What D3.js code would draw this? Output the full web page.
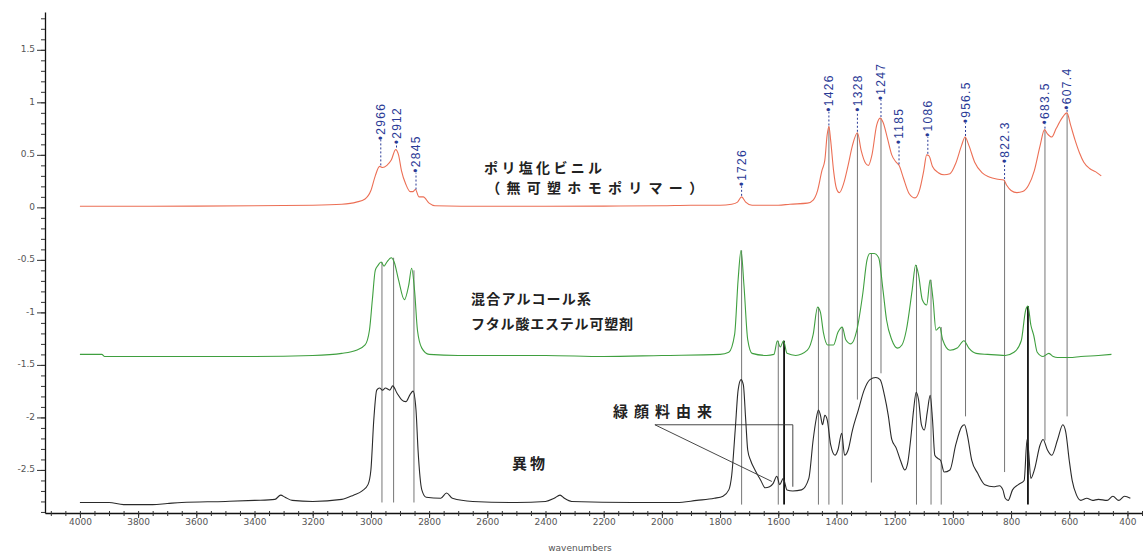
<!DOCTYPE html>
<html>
<head>
<meta charset="utf-8">
<script src="https://cdn.jsdelivr.net/npm/d3@7"></script>
<style>
  body { margin: 0; background: #fff; }
  .tick text { font-family: "DejaVu Sans", sans-serif; font-size: 9px; fill: #555; }
  .jp { font-family: "Noto Sans CJK JP", sans-serif; font-weight: bold; fill: #222; }
</style>
</head>
<body>
<div id="chart"></div>
<script>
// spectra: [wavenumber, absorbance]
const pvcSpectrum = [
  [4000,0.01],[3800,0.01],[3600,0.012],[3400,0.015],[3200,0.02],[3100,0.03],[3050,0.05],[3020,0.08],
  [3000,0.16],[2985,0.30],[2970,0.39],[2960,0.38],[2945,0.40],[2930,0.45],[2915,0.55],[2905,0.50],
  [2895,0.35],[2880,0.22],[2865,0.15],[2856,0.15],[2847,0.17],[2835,0.10],[2820,0.10],[2800,0.04],
  [2780,0.015],[2600,0.01],[2400,0.01],[2200,0.012],[2000,0.015],[1900,0.02],[1800,0.02],[1760,0.03],
  [1740,0.05],[1726,0.10],[1712,0.05],[1690,0.02],[1600,0.02],[1560,0.03],[1500,0.04],[1480,0.07],
  [1465,0.16],[1450,0.35],[1440,0.45],[1432,0.69],[1426,0.77],[1420,0.64],[1410,0.35],[1400,0.18],
  [1390,0.14],[1375,0.23],[1360,0.40],[1345,0.59],[1328,0.71],[1315,0.54],[1300,0.42],[1290,0.40],
  [1278,0.50],[1262,0.78],[1250,0.85],[1240,0.81],[1225,0.66],[1210,0.50],[1195,0.43],[1185,0.40],
  [1170,0.28],[1150,0.13],[1130,0.09],[1115,0.16],[1100,0.35],[1090,0.50],[1082,0.49],[1070,0.39],
  [1050,0.33],[1030,0.31],[1010,0.32],[990,0.42],[970,0.59],[958,0.67],[945,0.59],[925,0.43],
  [900,0.33],[875,0.29],[850,0.27],[825,0.26],[815,0.21],[800,0.16],[780,0.14],[760,0.15],
  [740,0.21],[720,0.35],[700,0.59],[685,0.74],[675,0.70],[660,0.67],[645,0.75],[625,0.85],
  [608,0.90],[595,0.78],[580,0.64],[565,0.52],[550,0.43],[530,0.37],[510,0.34],[490,0.30]
];

const plasticizerSpectrum = [
  [4000,-1.40],[3925,-1.40],[3915,-1.42],[3600,-1.42],[3400,-1.42],[3200,-1.41],[3100,-1.39],[3050,-1.36],
  [3020,-1.31],[3005,-1.17],[2995,-0.88],[2985,-0.60],[2975,-0.55],[2965,-0.52],[2955,-0.56],[2945,-0.52],
  [2930,-0.48],[2920,-0.52],[2905,-0.69],[2885,-0.88],[2870,-0.74],[2860,-0.58],[2850,-0.79],[2840,-1.17],
  [2825,-1.34],[2800,-1.40],[2700,-1.41],[2400,-1.41],[2200,-1.42],[2000,-1.41],[1800,-1.40],[1770,-1.38],
  [1750,-1.21],[1738,-0.69],[1728,-0.41],[1718,-0.74],[1705,-1.26],[1690,-1.39],[1640,-1.41],[1615,-1.40],
  [1603,-1.27],[1593,-1.33],[1582,-1.27],[1570,-1.39],[1540,-1.41],[1500,-1.36],[1480,-1.21],[1465,-0.95],
  [1455,-1.00],[1445,-1.19],[1430,-1.31],[1410,-1.31],[1395,-1.19],[1380,-1.14],[1368,-1.26],[1350,-1.30],
  [1330,-1.17],[1310,-0.83],[1295,-0.50],[1285,-0.44],[1270,-0.44],[1255,-0.48],[1240,-0.79],[1228,-1.07],
  [1210,-1.26],[1190,-1.34],[1175,-1.31],[1160,-1.17],[1140,-0.79],[1128,-0.55],[1118,-0.64],[1105,-0.88],
  [1090,-0.93],[1078,-0.69],[1068,-0.88],[1058,-1.17],[1045,-1.14],[1035,-1.26],[1010,-1.36],[985,-1.34],
  [962,-1.27],[945,-1.34],[920,-1.39],[880,-1.40],[820,-1.41],[790,-1.38],[765,-1.27],[750,-0.98],
  [742,-0.94],[732,-1.12],[722,-1.22],[710,-1.38],[690,-1.42],[670,-1.39],[655,-1.42],[640,-1.43],
  [600,-1.43],[560,-1.42],[500,-1.41],[455,-1.40]
];

const sampleSpectrum = [
  [4000,-2.81],[3900,-2.81],[3850,-2.83],[3750,-2.83],[3700,-2.82],[3650,-2.81],[3500,-2.80],[3400,-2.79],
  [3330,-2.78],[3310,-2.74],[3295,-2.76],[3270,-2.79],[3200,-2.80],[3100,-2.78],[3060,-2.74],[3030,-2.70],
  [3010,-2.64],[3000,-2.50],[2990,-2.02],[2980,-1.74],[2970,-1.72],[2960,-1.74],[2950,-1.72],[2935,-1.74],
  [2925,-1.70],[2910,-1.77],[2895,-1.83],[2880,-1.85],[2865,-1.78],[2855,-1.75],[2845,-1.93],[2838,-2.31],
  [2825,-2.69],[2810,-2.76],[2760,-2.77],[2740,-2.72],[2720,-2.77],[2650,-2.80],[2500,-2.81],[2400,-2.80],
  [2370,-2.77],[2350,-2.74],[2335,-2.77],[2310,-2.80],[2100,-2.81],[1950,-2.81],[1880,-2.79],[1820,-2.77],
  [1790,-2.75],[1770,-2.69],[1760,-2.55],[1748,-2.12],[1738,-1.74],[1728,-1.64],[1720,-1.69],[1712,-2.02],
  [1705,-2.31],[1695,-2.41],[1680,-2.50],[1660,-2.60],[1645,-2.67],[1630,-2.66],[1618,-2.63],[1605,-2.56],
  [1595,-2.64],[1583,-2.58],[1570,-2.69],[1550,-2.70],[1520,-2.69],[1495,-2.58],[1480,-2.21],[1470,-2.02],
  [1462,-1.93],[1455,-1.98],[1448,-2.07],[1440,-1.98],[1432,-2.02],[1420,-2.26],[1405,-2.36],[1395,-2.31],
  [1382,-2.15],[1372,-2.36],[1360,-2.31],[1345,-2.12],[1325,-1.93],[1305,-1.74],[1285,-1.64],[1265,-1.62],
  [1250,-1.64],[1235,-1.79],[1222,-1.98],[1210,-2.21],[1195,-2.29],[1180,-2.41],[1165,-2.50],[1155,-2.43],
  [1145,-2.21],[1135,-1.93],[1126,-1.76],[1118,-1.83],[1108,-2.07],[1098,-2.12],[1088,-1.95],[1078,-1.79],
  [1070,-2.02],[1062,-2.36],[1052,-2.39],[1042,-2.41],[1030,-2.52],[1010,-2.50],[990,-2.26],[970,-2.09],
  [960,-2.07],[950,-2.17],[935,-2.41],[915,-2.53],[890,-2.64],[860,-2.66],[840,-2.65],[828,-2.69],
  [820,-2.77],[810,-2.79],[795,-2.69],[775,-2.64],[755,-2.60],[745,-2.21],[740,-2.31],[732,-2.58],
  [720,-2.50],[700,-2.26],[690,-2.21],[675,-2.31],[660,-2.36],[640,-2.21],[622,-2.07],[612,-2.14],
  [600,-2.41],[590,-2.60],[575,-2.74],[560,-2.79],[540,-2.77],[520,-2.79],[500,-2.78],[470,-2.79],
  [450,-2.75],[430,-2.79],[410,-2.75],[390,-2.77]
];

// peak labels on the PVC trace
const peakWavenumbers = [2966, 2912, 2845, 1726, 1426, 1328, 1247, 1185, 1086, 956.5, 822.3, 683.5, 607.4];
const peakLabels = ["2966", "2912", "2845", "1726", "1426", "1328", "1247", "1185", "1086", "956.5", "822.3", "683.5", "607.4"];
const peakValues = [0.39, 0.56, 0.16, 0.10, 0.77, 0.71, 0.85, 0.40, 0.50, 0.67, 0.26, 0.74, 0.90];
const peakLabelLevels = [0.64, 0.60, 0.33, 0.20, 0.91, 0.91, 1.02, 0.60, 0.67, 0.80, 0.42, 0.79, 0.93];

// vertical guide lines: [wavenumber, top, bottom]
const guideLines = [
  [2962, -0.52, -2.81], [2922, -0.48, -2.81], [2852, -0.60, -2.81],
  [1726, -0.41, -2.83], [1600, -1.27, -2.83], [1580, -1.27, -2.83],
  [1462, -0.95, -2.83], [1426, 0.77, -2.83], [1380, -1.14, -2.83],
  [1328, 0.71, -1.83], [1280, -0.44, -2.62], [1247, 0.85, -1.58],
  [1125, -0.55, -2.83], [1075, -0.69, -2.83], [1040, -1.14, -2.83],
  [956.5, 0.67, -1.99], [822.3, 0.26, -2.52], [742, -0.94, -2.83],
  [683.5, 0.74, -2.22], [607.4, 0.90, -1.99]
];
const boldGuides = [1580, 742];

// 緑顔料由来 pointer lines
const pigmentBracket = [[2024, -2.07], [1550, -2.07], [1550, -2.66]];
const pigmentPointer = [[2024, -2.07], [1622, -2.61]];

const xTicks = d3.range(4000, 399, -200);
const xMinorTicks = d3.range(4100, 349, -50);
const yTicks = [-2.5, -2, -1.5, -1, -0.5, 0, 0.5, 1, 1.5];
const yMinorTicks = d3.range(-29, 19).map(d => d / 10);

const annotations = [
  {text: "ポリ塩化ビニル", w: 2611, v: 0.386, size: 14, len: 118},
  {text: "（無可塑ホモポリマー）", w: 2604, v: 0.195, size: 14, len: 217},
  {text: "混合アルコール系", w: 2656, v: -0.862, size: 14, len: 120},
  {text: "フタル酸エステル可塑剤", w: 2656, v: -1.10, size: 14, len: 162},
  {text: "緑顔料由来", w: 2168, v: -1.938, size: 15, len: 99},
  {text: "異物", w: 2515, v: -2.433, size: 15, len: 33}
];

const W = 1146, H = 555;
const x = d3.scaleLinear().domain([4120, 350]).range([45, 1142]);
const y = d3.scaleLinear().domain([-2.91, 1.86]).range([513, 12]);

const svg = d3.select("#chart").append("svg")
  .attr("width", W).attr("height", H);

// guide lines behind the traces
svg.append("g").selectAll("line")
  .data(guideLines)
  .enter().append("line")
  .attr("x1", d => x(d[0])).attr("x2", d => x(d[0]))
  .attr("y1", d => y(d[1])).attr("y2", d => y(d[2]))
  .attr("stroke", d => boldGuides.includes(d[0]) ? "#111" : "#666")
  .attr("stroke-width", d => boldGuides.includes(d[0]) ? 1.8 : 0.9);

const line = d3.line()
  .x(d => x(d[0]))
  .y(d => y(d[1]))
  .curve(d3.curveMonotoneX);

const traces = [
  {data: pvcSpectrum, color: "#ec6f55"},
  {data: plasticizerSpectrum, color: "#3f9f3f"},
  {data: sampleSpectrum, color: "#2a2a2a"}
];
svg.append("g").selectAll("path")
  .data(traces)
  .enter().append("path")
  .attr("d", d => line(d.data))
  .attr("fill", "none")
  .attr("stroke", d => d.color)
  .attr("stroke-width", 1.1);

// pointer lines
const pointer = d3.line().x(d => x(d[0])).y(d => y(d[1]));
[pigmentBracket, pigmentPointer].forEach(p => {
  svg.append("path").attr("d", pointer(p))
    .attr("fill", "none").attr("stroke", "#333").attr("stroke-width", 0.9);
});

// peak labels
const labels = svg.append("g");
peakWavenumbers.forEach((w, i) => {
  labels.append("line")
    .attr("x1", x(w)).attr("x2", x(w))
    .attr("y1", y(peakValues[i]) - 1).attr("y2", y(peakLabelLevels[i]))
    .attr("stroke", "#2a3a96").attr("stroke-width", 1)
    .attr("stroke-dasharray", "2,2");
  labels.append("text")
    .attr("transform", `translate(${x(w)},${y(peakLabelLevels[i])}) rotate(-90)`)
    .attr("dy", "0.35em")
    .attr("font-family", "Liberation Sans, Arial, sans-serif")
    .attr("font-size", 12)
    .attr("letter-spacing", 1.3)
    .attr("fill", "#2a3a96")
    .text("•" + peakLabels[i]);
});

// text annotations
svg.append("g").selectAll("text")
  .data(annotations)
  .enter().append("text")
  .attr("class", "jp")
  .attr("x", d => x(d.w)).attr("y", d => y(d.v))
  .attr("dominant-baseline", "central")
  .attr("font-size", d => d.size)
  .attr("textLength", d => d.len)
  .attr("lengthAdjust", "spacing")
  .text(d => d.text);

// axes
const xAxis = svg.append("g").attr("transform", "translate(0,513)");
xAxis.call(d3.axisBottom(x).tickValues(xMinorTicks).tickSize(3).tickSizeOuter(0).tickFormat(""));
xAxis.call(g => g.append("g").call(d3.axisTop(x).tickValues(xMinorTicks).tickSize(2).tickFormat("")).select(".domain").remove());
xAxis.append("g").call(d3.axisBottom(x).tickValues(xTicks).tickSize(5).tickPadding(1).tickSizeOuter(0)
    .tickFormat(d3.format("d")))
  .call(g => g.select(".domain").remove());

const yAxis = svg.append("g").attr("transform", "translate(45,0)");
yAxis.call(d3.axisLeft(y).tickValues(yMinorTicks).tickSize(4).tickSizeOuter(0).tickFormat(""));
yAxis.append("g").call(d3.axisLeft(y).tickValues(yTicks).tickSize(8).tickPadding(2)
    .tickFormat(d => String(d)))
  .call(g => g.select(".domain").remove())
  .call(g => g.selectAll("text").attr("dy", "0.2em"));

svg.selectAll(".domain").attr("stroke", "#111").attr("stroke-width", 1.3);
svg.selectAll(".tick line").attr("stroke", "#333");

svg.append("text")
  .attr("x", 580).attr("y", 551)
  .attr("text-anchor", "middle")
  .attr("font-family", "DejaVu Sans, sans-serif")
  .attr("font-size", 9).attr("fill", "#555")
  .text("wavenumbers");
</script>
</body>
</html>
